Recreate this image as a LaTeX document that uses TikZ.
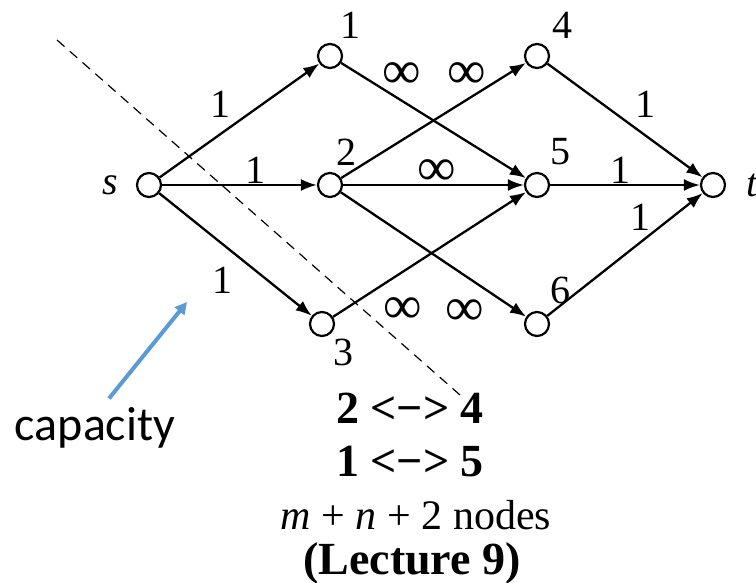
\documentclass[tikz,border=0pt]{standalone}
\usepackage{fontspec}
\setmainfont{Liberation Serif}
\newfontfamily\capfont{Carlito}
\usetikzlibrary{arrows.meta,positioning}
\definecolor{capblue}{RGB}{91,155,213}

\begin{document}
\begin{tikzpicture}[
  x=0.5pt, y=-0.5pt,
  >={Latex[length=8pt,width=6pt]}, line width=1.15pt,
  vert/.style={circle, draw, fill=white, minimum size=12pt, inner sep=0pt, line width=1.1pt},
  vname/.style={font=\fontsize{20}{24}\selectfont, inner sep=0pt},
  capl/.style={font=\fontsize{20}{24}\selectfont, inner sep=0pt},
  infl/.style={font=\fontsize{27}{30}\selectfont, inner sep=0pt},
  flow/.style={->, line width=1.15pt},
  cutline/.style={line width=0.6pt, dash pattern=on 5pt off 3.5pt},
  notel/.style={font=\fontsize{23}{27}\selectfont\bfseries, inner sep=0pt},
  plainl/.style={font=\fontsize{21}{25}\selectfont, inner sep=0pt},
  pointer/.style={-{Triangle[length=6pt,width=6pt]}, line width=2pt, draw=capblue}
]
  \useasboundingbox (0,0) rectangle (756,583);

  % --- Cut line (behind everything) ---
  \coordinate (cutA) at (57,40);
  \coordinate (cutB) at (460,395);
  \draw[cutline] (cutA) -- (cutB);

  % --- Vertices ---
  \node[vert] (s) at (149,185) {};
  \node[vert] (n1) at (330,56) {};
  \node[vert] (n2) at (330,185) {};
  \node[vert] (n3) at (322,324) {};
  \node[vert] (n4) at (537,56) {};
  \node[vert] (n5) at (537,185) {};
  \node[vert] (n6) at (537,324) {};
  \node[vert] (t) at (713,185) {};

  % --- Vertex names ---
  \node[vname] at (110,185) {\itshape s};
  \node[vname] at (350,25) {1};
  \node[vname] at (346,152) {2};
  \node[vname] at (343,352) {3};
  \node[vname] at (562,25) {4};
  \node[vname] at (560,152) {5};
  \node[vname] at (560,290) {6};
  \node[vname] at (752,185) {\itshape t};

  % --- Edges ---
  \foreach \a/\b in {s/n1, s/n2, s/n3, n1/n5, n2/n4, n2/n5, n2/n6, n3/n5, n4/t, n5/t, n6/t}
    \draw[flow] (\a) -- (\b);

  % --- Capacities ---
  \node[capl] at (220,104) {1};
  \node[capl] at (255,170) {1};
  \node[capl] at (222,280) {1};
  \node[infl] at (402,76) {∞};
  \node[infl] at (467,76) {∞};
  \node[infl] at (437,173) {∞};
  \node[infl] at (403,311) {∞};
  \node[infl] at (465,313) {∞};
  \node[capl] at (645,104) {1};
  \node[capl] at (620,170) {1};
  \node[capl] at (640,217) {1};

  % --- Annotation ---
  \node[font=\capfont\fontsize{24}{28}\selectfont, inner sep=0pt] (capname) at (95,428) {capacity};
  \coordinate (captip) at (187,302);
  \draw[pointer] ([xshift=7pt,yshift=4pt]capname.north) -- (captip);

  % --- Notes below ---
  \node[notel] (pairA) at (410,408) {2 <−> 4};
  \node[notel] (pairB) at (410,462) {1 <−> 5};
  \node[plainl] (count) at (416,515) {{\itshape m} + {\itshape n} + 2 nodes};
  \node[notel] (lect) at (412,563) {(Lecture 9)};
\end{tikzpicture}
\end{document}
